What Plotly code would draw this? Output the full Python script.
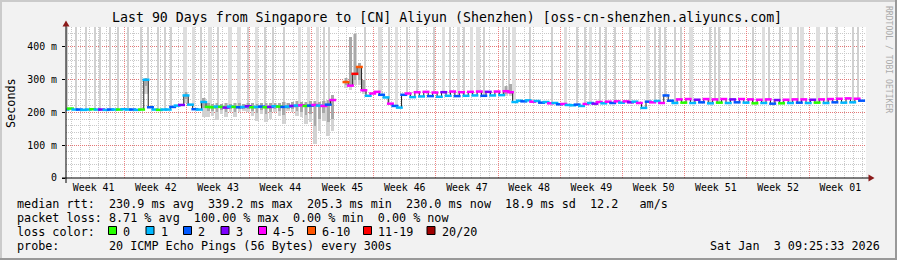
import numpy as np
import pandas as pd
import plotly.graph_objects as go

START = pd.Timestamp("2025-10-05 09:25:33")
END = pd.Timestamp("2026-01-03 09:25:33")
STEP_DAYS = 0.5  # one reading every half day

# ---------------- data ----------------
median_ms = (
    [209, 212, 209, 209, 208, 209, 210, 209, 209, 208, 209, 209, 209, 210, 209, 209, 208, 209]
    + [300]
    + [216, 209, 208, 209, 209, 217, 221, 223, 252, 224, 210, 209, 232, 217]
    + [216, 218, 217, 215, 218, 217, 216, 217, 219, 216, 217, 218, 216, 217, 219, 218, 217, 218]
    + [220, 221, 222, 220, 221, 223, 221, 220, 224, 238]
    + [None, None]
    + [293, 282, 318, 339, 268]
    + [251, 258, 263, 254, 246, 227, 220, 215, 254, 258, 247]
    + [262, 249, 263, 250, 261, 248, 262, 251, 264, 250, 262, 251, 263, 252, 264, 251, 263, 252, 264, 253, 265, 262]
    + [232]
    + [236, 234, 237, 233, 235, 230, 232, 228, 229, 225, 226, 223]
    + [222, 224, 220, 226, 229, 227, 232, 228, 233, 229, 234, 230, 234, 231, 233, 229]
    + [214, 233, 231, 235, 229, 252]
    + [236]
    + [229, 240, 230, 241, 229, 239, 231, 241, 228, 240, 230, 241, 229, 240, 231, 241, 230, 240, 228, 239,
       229, 240, 227, 238, 228, 239, 229, 240, 230, 240, 229, 239, 230, 240, 229, 241, 231, 242, 230, 243,
       231, 242, 236]
)

lost_pings = (
    [1, 0, 1, 2, 1, 1, 0, 1, 3, 1, 2, 1, 0, 1, 1, 2, 1, 0]
    + [1]
    + [2, 1, 0, 1, 1, 2, 1, 3, 1, 1, 2, 1, 1, 0]
    + [0, 1, 0, 3, 1, 0, 2, 1, 3, 0, 1, 2, 0, 3, 1, 0, 2, 1]
    + [3, 1, 4, 0, 2, 4, 1, 4, 2, 4]
    + [0, 0]
    + [8, 4, 15, 8, 5]
    + [1, 4, 4, 2, 1, 4, 2, 1, 2, 4, 1]
    + [4, 1, 4, 2, 4, 1, 3, 1, 4, 2, 4, 1, 4, 1, 4, 2, 3, 1, 4, 1, 4, 4]
    + [1, 1, 2, 1, 4, 1, 2, 1, 4, 1, 2, 4, 1, 1, 2, 1, 4, 1, 3, 4, 1, 4, 2, 4, 1, 4, 3, 1, 4, 1, 2, 4, 1, 4, 2]
    + [2, 1, 4, 0, 4, 1, 3, 2, 4, 1, 4, 0, 4, 1, 3, 2, 4, 1, 4, 0, 4, 1, 4, 2, 3, 0, 4, 1, 4, 2, 4, 1, 3, 0,
       4, 1, 4, 2, 4, 1, 4, 1, 4, 2]
)

# smoke (spread of the 20 pings), days after START
smoke_day = [9.0, 13.5,
             15.5, 16.0, 16.5, 17.0, 17.5, 18.0, 18.5, 19.0, 19.5, 20.0, 20.5, 21.0, 21.5, 22.0, 22.5,
             23.0, 23.5, 24.0, 24.5, 25.0, 25.5, 26.0, 26.5, 27.0, 27.5, 28.0, 28.5, 29.0, 29.5, 30.0,
             31.5, 32.0, 32.5, 33.0, 33.5, 49.5, 50.0]
smoke_lo = [255, 230,
            185, 185, 190, 178, 195, 185, 200, 185, 200, 205, 200, 190, 175, 195, 170,
            180, 200, 190, 164, 205, 200, 188, 185, 164, 170, 103, 144, 175, 129, 145,
            275, 270, 285, 285, 255, 250, 250]
smoke_core_lo = [280, 240,
                 215, 205, 205, 200, 207, 203, 210, 203, 210, 212, 210, 205, 198, 207, 195,
                 200, 210, 205, 192, 212, 210, 205, 203, 192, 195, 160, 180, 198, 170, 180,
                 285, 280, 300, 300, 262, 256, 256]
smoke_hi = [305, 262,
            245, 228, 226, 228, 225, 230, 226, 228, 230, 226, 228, 230, 227, 228, 229,
            230, 228, 230, 231, 229, 232, 234, 231, 233, 235, 236, 233, 236, 238, 252,
            305, 430, 440, 352, 300, 282, 286]

# times where some pings went off the top of the scale
spike_days_thin = [0.17, 1.18, 2.31, 3.24, 3.8, 4.93, 5.87, 7.0, 8.49, 9.25, 10.37, 11.11, 11.87,
                   15.24, 17.12, 20.5, 22.36, 23.34, 24.55, 29.08, 29.64, 33.61, 36.39, 38.42,
                   39.54, 41.46, 43.26, 44.83, 47.0, 49.2, 49.8, 52.2, 54.7, 57.5, 58.4, 60.1,
                   60.8, 61.8, 63.5, 66.3, 66.8, 67.4, 68.5, 69.2, 72.5, 73.0, 73.5, 74.7, 77.3,
                   79.1, 80.3, 82.4, 85.6, 86.7, 88.6, 89.1]
spike_days_wide = [13.38, 14.31, 16.18, 18.43, 19.46, 21.43, 26.27, 27.28, 28.29, 35.32, 37.18,
                   42.47, 44.15, 45.6, 46.35, 50.4, 56.2, 59.0, 65.45, 70.3, 78.5, 81.5, 82.8, 84.6]

week_starts = ["2025-10-05", "2025-10-12", "2025-10-19", "2025-10-26", "2025-11-02", "2025-11-09",
               "2025-11-16", "2025-11-23", "2025-11-30", "2025-12-07", "2025-12-14", "2025-12-21",
               "2025-12-28"]
week_labels = ["Week 41", "Week 42", "Week 43", "Week 44", "Week 45", "Week 46", "Week 47",
               "Week 48", "Week 49", "Week 50", "Week 51", "Week 52", "Week 01"]

y_tick_vals = [0, 100, 200, 300, 400]
y_tick_text = ["0", "100 m", "200 m", "300 m", "400 m"]

loss_max = [0, 1, 2, 3, 5, 10, 19, 20]
loss_labels = ["0", "1", "2", "3", "4-5", "6-10", "11-19", "20/20"]
loss_colors = ["#26ff00", "#00b8ff", "#0059ff", "#7e00ff", "#ff00ff", "#ff5500", "#ff0000", "#a00000"]

title = "Last 90 Days from Singapore to [CN] Aliyun (Shenzhen) [oss-cn-shenzhen.aliyuncs.com]"
legend_lines = [
    "median rtt:  230.9 ms avg  339.2 ms max  205.3 ms min  230.0 ms now  18.9 ms sd  12.2   am/s",
    "packet loss: 8.71 % avg  100.00 % max  0.00 % min  0.00 % now",
    "loss color:",
    "probe:       20 ICMP Echo Pings (56 Bytes) every 300s",
]
stamp = "Sat Jan  3 09:25:33 2026"

# ---------------- derived ----------------
DAY_MS = 86400000
days = np.arange(len(median_ms)) * STEP_DAYS
t = START + pd.to_timedelta(days, unit="D")
med = np.array([np.nan if v is None else v for v in median_ms], dtype=float)
valid = ~np.isnan(med)


def loss_color(n):
    for m, c in zip(loss_max, loss_colors):
        if n <= m:
            return c
    return loss_colors[-1]


point_colors = [loss_color(n) for n in lost_pings]

Y_TOP = 461
W, H = 897, 260
L, R, T, B = 66, 31, 27, 82
PW, PH = W - L - R, H - T - B


def px(x):
    return (x - L) / PW


def py(y):
    return (H - B - y) / PH


fig = go.Figure()


def spike_trace(day_list, width_days, color):
    d = np.array(day_list)
    base = np.interp(d, days[valid], med[valid])
    return go.Bar(x=START + pd.to_timedelta(d, unit="D"), y=Y_TOP - base, base=base,
                  width=width_days * DAY_MS, marker=dict(color=color, line=dict(width=0)),
                  hoverinfo="skip")


fig.add_trace(spike_trace(spike_days_wide, 0.38, "#dedede"))
fig.add_trace(spike_trace(spike_days_thin, 0.15, "#d0d0d0"))

sd = START + pd.to_timedelta(np.array(smoke_day), unit="D")
lo = np.array(smoke_lo, float)
clo = np.array(smoke_core_lo, float)
hi = np.array(smoke_hi, float)
fig.add_trace(go.Bar(x=sd, y=hi - lo, base=lo, width=STEP_DAYS * DAY_MS * 0.8,
                     marker=dict(color="#d2d2d2", line=dict(width=0)), hoverinfo="skip"))
fig.add_trace(go.Bar(x=sd, y=hi - clo, base=clo, width=STEP_DAYS * DAY_MS * 0.6,
                     marker=dict(color="#a8a8a8", line=dict(width=0)), hoverinfo="skip"))

fig.add_trace(go.Scatter(x=t, y=med, mode="lines", connectgaps=False,
                         line=dict(color="#202020", width=1, shape="hvh"), hoverinfo="skip"))
fig.add_trace(go.Scatter(x=t[valid], y=med[valid], mode="markers",
                         marker=dict(symbol="line-ew", size=5,
                                     line=dict(width=2.5, color=[c for c, v in zip(point_colors, valid) if v])),
                         hoverinfo="skip"))

# invisible trace to carry the week-label axis
mids = pd.to_datetime(week_starts) + pd.Timedelta(hours=84)
fig.add_trace(go.Scatter(x=mids, y=[None] * len(mids), xaxis="x2", mode="markers",
                         hoverinfo="skip", showlegend=False))

MONO = "DejaVu Sans Mono"
RED_GRID = "rgba(235,90,90,0.75)"
MINOR_GRID = "#c9c9c9"
DASH = "1px,1px"

fig.update_layout(
    width=W, height=H, margin=dict(l=L, r=R, t=T, b=B, pad=0),
    paper_bgcolor="#f2f2f2", plot_bgcolor="#ffffff",
    showlegend=False, barmode="overlay", bargap=0,
    font=dict(family=MONO, color="#000000"),
    xaxis=dict(type="date", range=[START, END], tick0="2025-10-12", dtick=7 * DAY_MS,
               showticklabels=False, ticks="", showgrid=True, gridcolor=RED_GRID,
               griddash=DASH, gridwidth=1, zeroline=False, showline=False,
               minor=dict(tick0="2025-10-05", dtick=DAY_MS, showgrid=True,
                          gridcolor=MINOR_GRID, griddash=DASH, gridwidth=1)),
    xaxis2=dict(type="date", range=[START, END], overlaying="x", anchor="y", side="bottom",
                tickmode="array", tickvals=mids, ticktext=week_labels, showgrid=False,
                ticks="", zeroline=False, showline=False, tickfont=dict(family=MONO, size=9.9),
                ticklabelstandoff=2),
    yaxis=dict(range=[0, Y_TOP], tickmode="array", tickvals=y_tick_vals, ticktext=y_tick_text,
               showgrid=True, gridcolor=RED_GRID, griddash=DASH, gridwidth=1,
               ticks="outside", ticklen=3, tickcolor="#000000", zeroline=False, showline=False,
               tickfont=dict(family=MONO, size=9.9), ticklabelstandoff=3,
               minor=dict(dtick=20, showgrid=True, gridcolor=MINOR_GRID, griddash=DASH, gridwidth=1)),
)

shapes = []
# frame (3D border)
shapes += [
    dict(type="rect", xref="paper", yref="paper", x0=px(0), x1=px(W), y0=py(0), y1=py(2),
         fillcolor="#cbcbcb", line=dict(width=0), layer="above"),
    dict(type="rect", xref="paper", yref="paper", x0=px(0), x1=px(2), y0=py(0), y1=py(H),
         fillcolor="#cbcbcb", line=dict(width=0), layer="above"),
    dict(type="rect", xref="paper", yref="paper", x0=px(0), x1=px(W), y0=py(H - 2), y1=py(H),
         fillcolor="#999999", line=dict(width=0), layer="above"),
    dict(type="rect", xref="paper", yref="paper", x0=px(W - 2), x1=px(W), y0=py(0), y1=py(H),
         fillcolor="#999999", line=dict(width=0), layer="above"),
]
# axes with arrows
AX_Y = H - B
shapes += [
    dict(type="line", xref="paper", yref="paper", x0=px(62), x1=px(870), y0=py(AX_Y), y1=py(AX_Y),
         line=dict(color="#000000", width=1), layer="above"),
    dict(type="line", xref="paper", yref="paper", x0=px(L), x1=px(L), y0=py(183), y1=py(24),
         line=dict(color="#000000", width=1), layer="above"),
    dict(type="path", xref="paper", yref="paper",
         path=f"M {px(L - 3.5)} {py(26.5)} L {px(L + 3.5)} {py(26.5)} L {px(L)} {py(20.5)} Z",
         fillcolor="#8b1a1a", line=dict(width=0), layer="above"),
    dict(type="path", xref="paper", yref="paper",
         path=f"M {px(868.5)} {py(AX_Y - 3.5)} L {px(868.5)} {py(AX_Y + 3.5)} L {px(874.5)} {py(AX_Y)} Z",
         fillcolor="#8b1a1a", line=dict(width=0), layer="above"),
]
# loss-colour swatches
sw_x = [108.5, 146, 183.5, 221, 258.5, 307.5, 363.5, 427]
for x0, c in zip(sw_x, loss_colors):
    shapes.append(dict(type="rect", xref="paper", yref="paper", x0=px(x0), x1=px(x0 + 8),
                       y0=py(226.5), y1=py(234.5), fillcolor=c,
                       line=dict(color="#000000", width=1), layer="above"))
fig.update_layout(shapes=shapes)

LEG = 11.76
ann = [
    dict(text=title, x=px(447), y=py(18), font=dict(size=13.25)),
    dict(text="Seconds", x=px(11), y=py(103), textangle=-90, font=dict(size=11.8)),
    dict(text="RRDTOOL / TOBI OETIKER", x=px(889), y=py(59), textangle=90,
         font=dict(size=8.1, color="#ababab")),
    dict(text=stamp, x=px(880.5), y=py(246), xanchor="right", font=dict(size=LEG)),
]
for line, yc in zip(legend_lines, [204.3, 218.3, 232.3, 246.0]):
    ann.append(dict(text=line.replace(" ", "&nbsp;"), x=px(16), y=py(yc), xanchor="left",
                    font=dict(size=LEG)))
for x0, lab in zip(sw_x, loss_labels):
    ann.append(dict(text=lab, x=px(x0 + 13.5), y=py(232.3), xanchor="left", font=dict(size=LEG)))
for a in ann:
    a.setdefault("xanchor", "center")
    a.update(xref="paper", yref="paper", yanchor="middle", showarrow=False, borderpad=0)
    a["font"] = dict(family=MONO, color=a["font"].get("color", "#000000"), size=a["font"]["size"])
fig.update_layout(annotations=ann)

fig.write_html("out.html")
